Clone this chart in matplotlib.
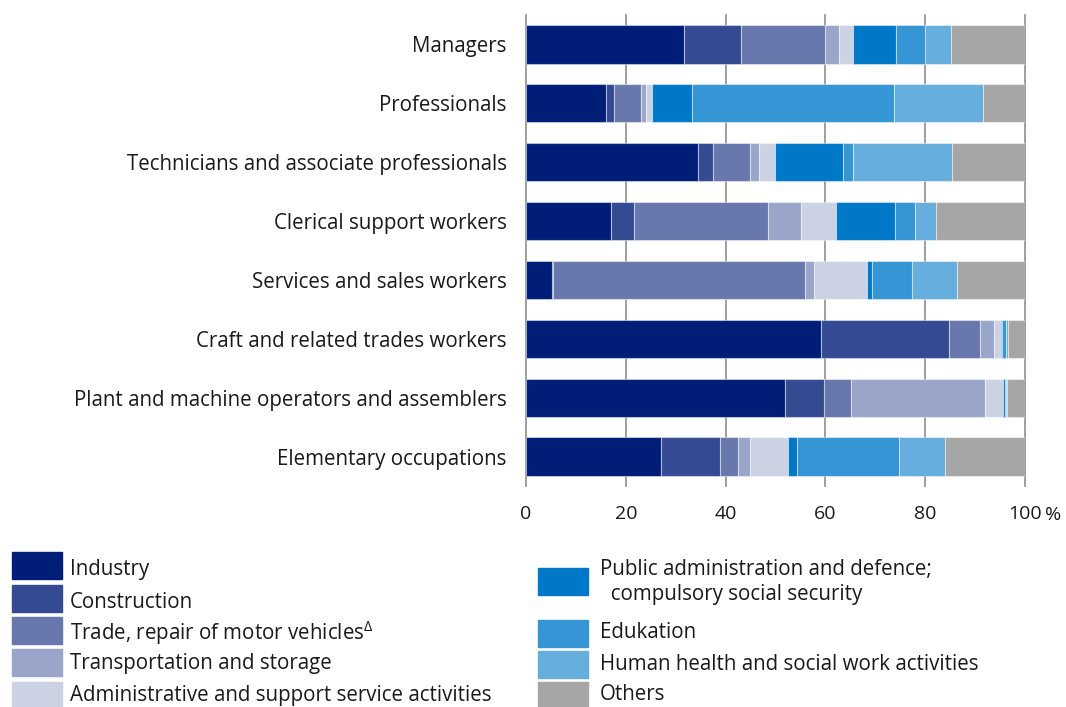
import matplotlib
matplotlib.use("Agg")
import matplotlib.pyplot as plt
from matplotlib.patches import Rectangle
import numpy as np

plt.rcParams['font.family'] = ['Open Sans', 'DejaVu Sans']
plt.rcParams['mathtext.default'] = 'regular'

# occupations (top to bottom)
occupations = ["Managers",
               "Professionals",
               "Technicians and associate professionals",
               "Clerical support workers",
               "Services and sales workers",
               "Craft and related trades workers",
               "Plant and machine operators and assemblers",
               "Elementary occupations"]

# share of each sector, in %
industry     = [31.6, 16.0, 34.4, 17.0,  5.2, 59.2, 51.9, 27.0]
construction = [11.4,  1.6,  3.1,  4.6,  0.2, 25.6,  7.8, 11.8]
trade        = [17.0,  5.4,  7.3, 26.9, 50.5,  6.2,  5.5,  3.6]
transport    = [ 2.7,  1.1,  1.9,  6.7,  1.8,  2.8, 26.8,  2.4]
admin        = [ 2.8,  1.1,  3.3,  6.9, 10.6,  1.4,  3.6,  7.8]
public       = [ 8.7,  8.1, 13.6, 11.9,  1.1,  0.1,  0.4,  1.8]
education    = [ 5.8, 40.5,  1.9,  4.0,  8.0,  1.0,  0.3, 20.4]
health       = [ 5.1, 17.8, 19.8,  4.2,  8.9,  0.3,  0.2,  9.2]
others       = [14.9,  8.4, 14.7, 17.8, 13.7,  3.5,  3.5, 16.0]

series = [industry, construction, trade, transport, admin,
          public, education, health, others]
labels = ["Industry",
          "Construction",
          "Trade, repair of motor vehicles$^{\\Delta}$",
          "Transportation and storage",
          "Administrative and support service activities",
          "Public administration and defence;\n  compulsory social security",
          "Edukation",
          "Human health and social work activities",
          "Others"]
couleurs = ["#001e78", "#344b93", "#6878ad", "#99a6c9", "#cbd2e4",
            "#0078c8", "#3595d5", "#66aede", "#a6a6a6"]
ticks = [0, 20, 40, 60, 80, 100]

fs = 14.8
txt = "#1a1a1a"

fig = plt.figure(figsize=(10.66, 7.07), dpi=100)
ax = fig.add_axes([0.4934, 0.3126, 0.4681, 0.6662])

y = np.arange(len(occupations))
left = np.zeros(len(occupations))
for vals, c in zip(series, couleurs):
    ax.barh(y, vals, left=left, height=0.65, color=c,
            edgecolor=(1, 1, 1, 0.45), linewidth=0.8, zorder=3)
    left += np.array(vals)

ax.set_ylim(len(occupations) - 0.5, -0.5)
ax.set_xlim(0, 100)
ax.set_yticks(y)
ax.set_yticklabels(occupations, fontsize=fs, color=txt)
ax.set_xticks(ticks)
ax.set_xticklabels([str(t) for t in ticks], fontsize=14, color=txt)
ax.tick_params(axis='y', length=0, pad=14)
ax.tick_params(axis='x', length=0, pad=14)
ax.annotate("%", xy=(100, 0), xycoords=ax.get_xaxis_transform(),
            xytext=(20, -29), textcoords='offset pixels', fontsize=14,
            ha='left', va='center', color=txt)

ax.spines[['left', 'right', 'top', 'bottom']].set_visible(False)
ax.grid(axis='x', color='#8f8f8f', linewidth=1.2, zorder=0)
ax.set_axisbelow(True)
for l in ax.get_xgridlines():
    l.set_clip_on(False)

# légende manuelle en deux colonnes
W, H = 1066, 707
def carre(x, ytop, c):
    fig.patches.append(Rectangle((x / W, 1 - (ytop + 27) / H), 50 / W, 27 / H,
                                 transform=fig.transFigure, color=c, clip_on=False))

gauche = [552, 585, 617, 649, 682]
decal = [18, 17, 16, 15, 13]
for i, yt in enumerate(gauche):
    carre(12, yt, couleurs[i])
    fig.text(70 / W, 1 - (yt + decal[i]) / H, labels[i], fontsize=fs,
             va='center', ha='left', color=txt)

droite = [568, 620, 651, 682]
for j, yt in enumerate(droite):
    i = j + 5
    carre(538, yt, couleurs[i])
    if i == 5:
        fig.text(600 / W, 1 - (yt + 14) / H, labels[i], fontsize=fs,
                 va='center', ha='left', color=txt, linespacing=1.25)
    else:
        fig.text(600 / W, 1 - (yt + 13) / H, labels[i], fontsize=fs,
                 va='center', ha='left', color=txt)

fig.savefig("out.png", dpi=100)
